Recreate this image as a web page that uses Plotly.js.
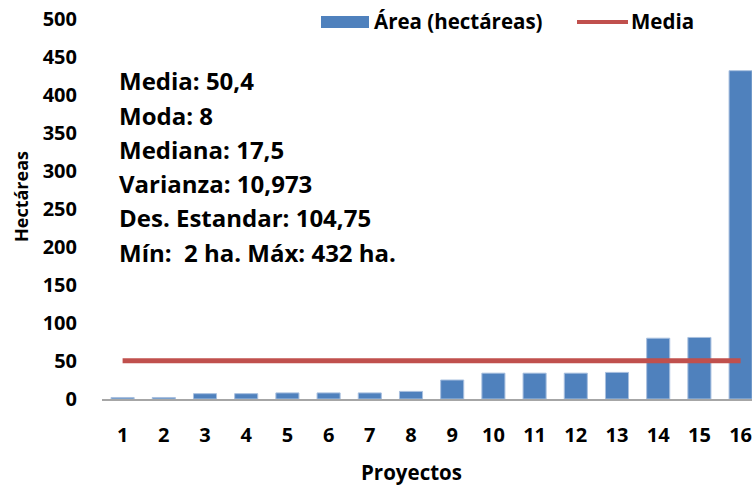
<!DOCTYPE html>
<html>
<head>
<meta charset="utf-8">
<script src="https://cdn.plot.ly/plotly-3.0.1.min.js"></script>
<style>html,body{margin:0;padding:0;background:#fff;}#chart{width:752px;height:489px;}</style>
</head>
<body>
<div id="chart"></div>
<script>
// ---- data ----
const proyectos = [1, 2, 3, 4, 5, 6, 7, 8, 9, 10, 11, 12, 13, 14, 15, 16];
const areaHectareas = [2, 2, 7, 7, 8, 8, 8, 10, 25, 34, 34, 34, 35, 80, 81, 432];
const mediaValues = [50.4, 50.4, 50.4, 50.4, 50.4, 50.4, 50.4, 50.4, 50.4, 50.4, 50.4, 50.4, 50.4, 50.4, 50.4, 50.4];
const yTicks = [0, 50, 100, 150, 200, 250, 300, 350, 400, 450, 500];
const statsLines = [
  "Media: 50,4",
  "Moda: 8",
  "Mediana: 17,5",
  "Varianza: 10,973",
  "Des. Estandar: 104,75",
  "Mín:  2 ha. Máx: 432 ha."
];
const legendLabels = ["Área (hectáreas)", "Media"];
const xTitle = "Proyectos";
const yTitle = "Hectáreas";

// ---- layout helpers ----
const W = 752, H = 489;
const M = {l: 102, r: 0, t: 19, b: 90};
const PW = W - M.l - M.r, PH = H - M.t - M.b;
const px = x => (x - M.l) / PW;
const py = y => (H - M.b - y) / PH;

const FONT = "'Open Sans', sans-serif";
const blue = "#4F81BD", red = "#C0504D";

const traces = [
  {
    type: "bar", x: proyectos, y: areaHectareas, name: legendLabels[0],
    marker: {color: blue, line: {color: "#a9c0df", width: 1}},
    width: 0.56, hoverinfo: "x+y"
  },
  {
    type: "scatter", mode: "lines", x: proyectos, y: mediaValues, name: legendLabels[1],
    line: {color: red, width: 5}
  }
];

const ann = [];
statsLines.forEach((t, i) => {
  ann.push({xref: "paper", yref: "paper", x: px(117), y: py(81 + i * 34.2),
    xanchor: "left", yanchor: "middle", showarrow: false, text: t,
    font: {family: FONT, size: 24, color: "#000", weight: "bold"}});
});
ann.push({xref: "paper", yref: "paper", x: px(372), y: py(21), xanchor: "left", yanchor: "middle",
  showarrow: false, text: legendLabels[0], font: {family: FONT, size: 20.5, color: "#000", weight: "bold"}});
ann.push({xref: "paper", yref: "paper", x: px(629), y: py(21), xanchor: "left", yanchor: "middle",
  showarrow: false, text: legendLabels[1], font: {family: FONT, size: 20.5, color: "#000", weight: "bold"}});
ann.push({xref: "paper", yref: "paper", x: px(411), y: py(472), xanchor: "center", yanchor: "middle",
  showarrow: false, text: xTitle, font: {family: FONT, size: 20.5, color: "#000", weight: "bold"}});
ann.push({xref: "paper", yref: "paper", x: px(21), y: py(197), xanchor: "center", yanchor: "middle",
  showarrow: false, text: yTitle, textangle: -90, font: {family: FONT, size: 18, color: "#000", weight: "bold"}});

const shapes = [
  {type: "rect", xref: "paper", yref: "paper", x0: px(321), x1: px(369), y0: py(28), y1: py(16),
    fillcolor: blue, line: {width: 0}},
  {type: "line", xref: "paper", yref: "paper", x0: px(577), x1: px(628), y0: py(22), y1: py(22),
    line: {color: red, width: 4}}
];

const layout = {
  width: W, height: H,
  margin: M,
  paper_bgcolor: "#fff", plot_bgcolor: "#fff",
  showlegend: false,
  font: {family: FONT, color: "#000"},
  xaxis: {
    type: "linear", range: [0.5, 0.5 + PW / 41.2],
    tickmode: "array", tickvals: proyectos, ticktext: proyectos.map(String),
    showgrid: false, zeroline: false,
    showline: true, linecolor: "#a6a6a6", linewidth: 2,
    ticks: "", ticklabelstandoff: 17, ticklabeloverflow: "allow",
    tickfont: {family: FONT, size: 20, color: "#000", weight: "bold"}
  },
  yaxis: {
    range: [0, 500], tickmode: "array", tickvals: yTicks,
    showgrid: false, zeroline: false, showline: false,
    ticks: "", ticklabelstandoff: 24,
    tickfont: {family: FONT, size: 20, color: "#000", weight: "bold"}
  },
  annotations: ann,
  shapes: shapes
};

Plotly.newPlot("chart", traces, layout, {displayModeBar: false, staticPlot: true});
</script>
</body>
</html>
